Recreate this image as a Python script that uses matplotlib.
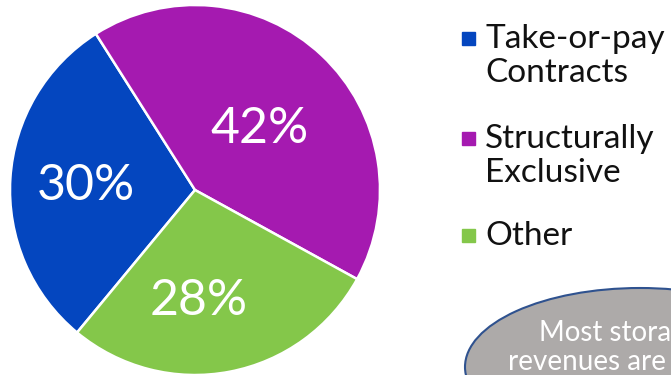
import matplotlib
matplotlib.use("Agg")
import matplotlib.pyplot as plt
from matplotlib.patches import Ellipse, Rectangle

categories = ["Take-or-pay\nContracts", "Structurally\nExclusive", "Other"]
shares = [30, 42, 28]
colors = ["#0446BF", "#A51AB0", "#84C74A"]

plt.rcParams["font.family"] = ["Lato", "DejaVu Sans"]

W, H = 671, 375
fig = plt.figure(figsize=(W / 100, H / 100), dpi=100)

# pie occupies a 370px square on the left
ax = fig.add_axes([10 / W, 0, 370 / W, 370 / H])
wedges, _, pct = ax.pie(shares, colors=colors, startangle=230.4, counterclock=False,
                        autopct="%d%%", radius=1.0,
                        wedgeprops=dict(edgecolor="white", linewidth=1.8),
                        textprops=dict(color="white", fontsize=36))
ax.set_xlim(-1, 1)
ax.set_ylim(-1, 1)
ax.set_aspect("equal")
ax.axis("off")

# nudge percentage labels to where they sit best inside each slice
label_xy = [(-0.59, 0.02), (0.35, 0.33), (0.02, -0.60)]
for t, (x, y) in zip(pct, label_xy):
    t.set_position((x, y))
    t.set_ha("center")
    t.set_va("center")

# legend: small squares aligned with the first line of each label
legend_tops = [38, 138, 235]
for lbl, c, yc in zip(categories, colors, legend_tops):
    fig.patches.append(Rectangle((462 / W, 1 - (yc + 6.5) / H), 13 / W, 13 / H,
                                 transform=fig.transFigure, color=c))
    fig.text(485 / W, 1 - (yc - 14) / H, lbl, fontsize=24,
             color="#111111", va="top", ha="left", linespacing=1.15)

# callout bubble, running off the bottom right corner
ell = Ellipse((640 / W, 1 - 367 / H), 350 / W, 158 / H, transform=fig.transFigure,
              facecolor="#ADAAA9", edgecolor="#2F528F", linewidth=1.5)
fig.patches.append(ell)
fig.text(620 / W, 1 - 320 / H, "Most storage\nrevenues are from",
         fontsize=20, color="white", ha="center", va="top",
         linespacing=1.15)

fig.savefig("out.png", dpi=100)
